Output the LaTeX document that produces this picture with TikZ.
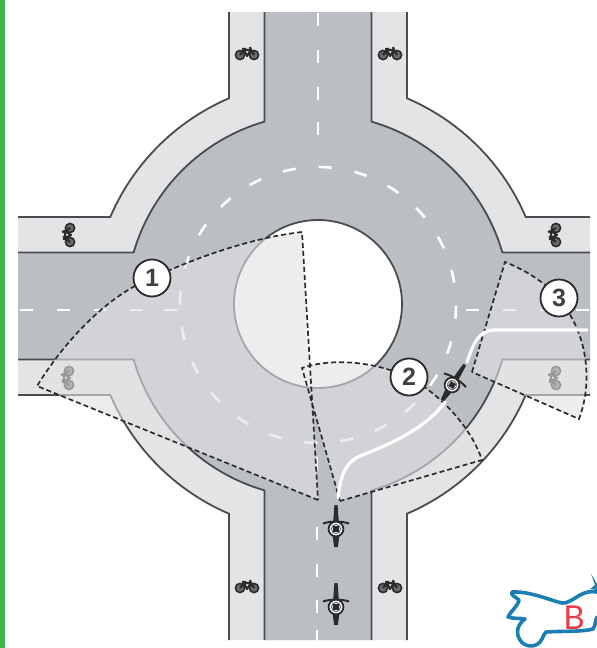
\documentclass[tikz,border=0pt]{standalone}
\usepackage{fontspec}
\setmainfont{Liberation Sans}
\newfontfamily\logofont{Lato}
\definecolor{roadc}{HTML}{BBBEC3}
\definecolor{trackc}{HTML}{E3E4E6}
\definecolor{edgec}{HTML}{4A4C4F}
\definecolor{shadec}{HTML}{E0E2E4}
\definecolor{inkc}{HTML}{2A2B2D}
\definecolor{barc}{HTML}{3CB54A}
\definecolor{logoc}{HTML}{1A7FB5}
\definecolor{logor}{HTML}{EE3A43}
\tikzset{
  edge/.style={draw=edgec,line width=1.8pt},
  cline/.style={draw=white,line width=2.6pt},
  sectorline/.style={draw=inkc,line width=1.7pt,dash pattern=on 5pt off 3pt},
  numdisc/.style={circle,draw=inkc,fill=white,line width=1.8pt,minimum size=37pt,inner sep=0pt,font=\fontsize{25}{25}\selectfont\bfseries,text=inkc!90},
  bikeicon/.pic={
    \draw[inkc,line width=1.6pt,fill=inkc!70] (-7,1) circle (4.6);
    \draw[inkc,line width=1.6pt,fill=inkc!70] (7,1) circle (4.6);
    \draw[inkc,line width=2.2pt,line join=round] (-7,1) -- (-3,-4) -- (4,-4) -- (7,1) (-3,-4) -- (0,2) -- (4,-4) (-5,-5) -- (-1,-5) (3,-7) -- (4,-4);
  },
  motoicon/.pic={
    \fill[inkc] (-1.6,-24) -- (1.6,-24) -- (2.8,-7) -- (-2.8,-7) -- cycle;
    \fill[inkc] (-3.5,6) -- (3.5,6) -- (1.8,18) -- (-1.8,18) -- cycle;
    \draw[inkc,line width=2pt] (-13,-5.5) .. controls (-6,-8) and (6,-8) .. (13,-5.5);
    \draw[inkc,line width=1.8pt,fill=white] (0,0) circle (7.4);
    \draw[inkc!70,line width=1pt] (0,0) circle (4.6);
    \fill[inkc] (-2.8,-2.8) rectangle (3,2.8);
  }
}
% ---- arm-and-ring outline helpers (R, half width, angle) ----
\newcommand\ringangles[1]{%
  \pgfmathsetmacro\aA{-90+#1}\pgfmathsetmacro\aB{-#1}%
  \pgfmathsetmacro\aC{#1}\pgfmathsetmacro\aD{90-#1}%
  \pgfmathsetmacro\aE{90+#1}\pgfmathsetmacro\aF{180-#1}%
  \pgfmathsetmacro\aG{180+#1}\pgfmathsetmacro\aH{270-#1}}
\newcommand\ringfill[4]{\ringangles{#3}%
  \fill[#4] ({318+#2},12)
   -- plot[domain=\aA:\aB,samples=30] ({318+#1*cos(\x)},{306+#1*sin(\x)})
   -- (590,{306-#2}) -- (590,{306+#2})
   -- plot[domain=\aC:\aD,samples=30] ({318+#1*cos(\x)},{306+#1*sin(\x)})
   -- ({318+#2},640) -- ({318-#2},640)
   -- plot[domain=\aE:\aF,samples=30] ({318+#1*cos(\x)},{306+#1*sin(\x)})
   -- (18,{306+#2}) -- (18,{306-#2})
   -- plot[domain=\aG:\aH,samples=30] ({318+#1*cos(\x)},{306+#1*sin(\x)})
   -- ({318-#2},12) -- cycle;}
\newcommand\ringedges[3]{\ringangles{#3}%
  \draw[edge] ({318+#2},12)
   -- plot[domain=\aA:\aB,samples=30] ({318+#1*cos(\x)},{306+#1*sin(\x)})
   -- (590,{306-#2});
  \draw[edge] (590,{306+#2})
   -- plot[domain=\aC:\aD,samples=30] ({318+#1*cos(\x)},{306+#1*sin(\x)})
   -- ({318+#2},640);
  \draw[edge] ({318-#2},640)
   -- plot[domain=\aE:\aF,samples=30] ({318+#1*cos(\x)},{306+#1*sin(\x)})
   -- (18,{306+#2});
  \draw[edge] (18,{306-#2})
   -- plot[domain=\aG:\aH,samples=30] ({318+#1*cos(\x)},{306+#1*sin(\x)})
   -- ({318-#2},12);}
\newcommand\sectorpath{
  (318,500) -- (37,386)
    .. controls (75,325) and (120,290) .. (152,278)
    .. controls (195,258) and (250,238) .. (302,232) -- cycle
  (340,501) -- (302,368)
    .. controls (325,360) and (365,358) .. (409,377)
    .. controls (440,395) and (470,425) .. (482,460) -- cycle
  (472,372) -- (505,262)
    .. controls (525,270) and (545,282) .. (558,298)
    .. controls (590,335) and (592,385) .. (579,419) -- cycle
}
\begin{document}
\begin{tikzpicture}[x=1pt,y=-1pt]
\useasboundingbox (0,0) rectangle (597,648);
\fill[white] (0,0) rectangle (597,648);
\fill[barc] (0,0) rectangle (4.5,648);
% tracks and road
\ringfill{226}{89}{23.2}{trackc}
\ringfill{192}{53.5}{16.18}{roadc}
% centre lines
\foreach \k in {0,...,23}{
  \pgfmathsetmacro\ca{3+15*\k-2.7}\pgfmathsetmacro\cb{3+15*\k+2.7}
  \draw[cline] plot[domain=\ca:\cb,samples=5] ({318+138*cos(\x)},{305+138*sin(\x)});
}
\foreach \c in {19,56,93,128}{\draw[cline] (318,\c-6.5) -- (318,\c+6.5);}
\foreach \c in {463,533,570,606,636}{\draw[cline] (317,\c-6.5) -- (317,\c+6.5);}
\foreach \c in {26,63,100,136,170}{\draw[cline] (\c-6.5,310) -- (\c+6.5,310);}
\foreach \c in {472,509,546,582}{\draw[cline] (\c-6.5,310) -- (\c+6.5,310);}
% island
\draw[edge,fill=white] (318,304) circle (84);
\ringedges{226}{89}{23.2}
\ringedges{192}{53.5}{16.18}
% bicycles
\path (247,54) pic {bikeicon};
\path (390,54) pic {bikeicon};
\path (247,587) pic {bikeicon};
\path (390,587) pic {bikeicon};
\path (69,235) pic[rotate=90] {bikeicon};
\path (555,235) pic[rotate=90] {bikeicon};
\path (68,378) pic[rotate=90] {bikeicon};
\path (555,378) pic[rotate=90] {bikeicon};
% sight sectors
\fill[shadec,fill opacity=.6] \sectorpath;
\draw[sectorline] \sectorpath;
% riding line
\draw[white,line width=3.2pt,line cap=round] (338,498) .. controls (340,478) and (345,462) .. (360,456) .. controls (385,446) and (425,430) .. (445,402);
\draw[white,line width=3.2pt,line cap=round] (467,362) .. controls (473,345) and (478,330) .. (495,330) -- (587,330);
% motorcycles
\path (336,529) pic {motoicon};
\path (336,607) pic {motoicon};
\path (452,385) pic[rotate=-32] {motoicon};
% numbered discs
\node[numdisc] (n1) at (152,278) {1};
\node[numdisc] (n2) at (409,377) {2};
\node[numdisc] (n3) at (559,298) {3};
% logo
\draw[logoc,line width=3.6pt,line join=round,line cap=round]
  (597,592) .. controls (590,591) and (586,592) .. (580,595)
  .. controls (572,600) and (566,604) .. (562,603)
  .. controls (552,601) and (530,591) .. (512,592)
  .. controls (510,595) and (516,597) .. (519,600)
  .. controls (518,606) and (510,612) .. (508,617)
  .. controls (514,619) and (520,618) .. (525,619)
  .. controls (518,624) and (515,632) .. (520,640)
  .. controls (524,647) and (535,648) .. (540,642)
  .. controls (544,637) and (543,634) .. (546,632)
  .. controls (560,631) and (582,632) .. (593,629)
  .. controls (596,625) and (595,620) .. (597,617);
\fill[logoc] (591,574) -- (597,584) -- (597,590) -- (590,589) -- (595,585) -- cycle;
\node[text=logor,font=\logofont\fontsize{33}{33}\selectfont,inner sep=0pt] (logob) at (574,618) {B};
\end{tikzpicture}
\end{document}
